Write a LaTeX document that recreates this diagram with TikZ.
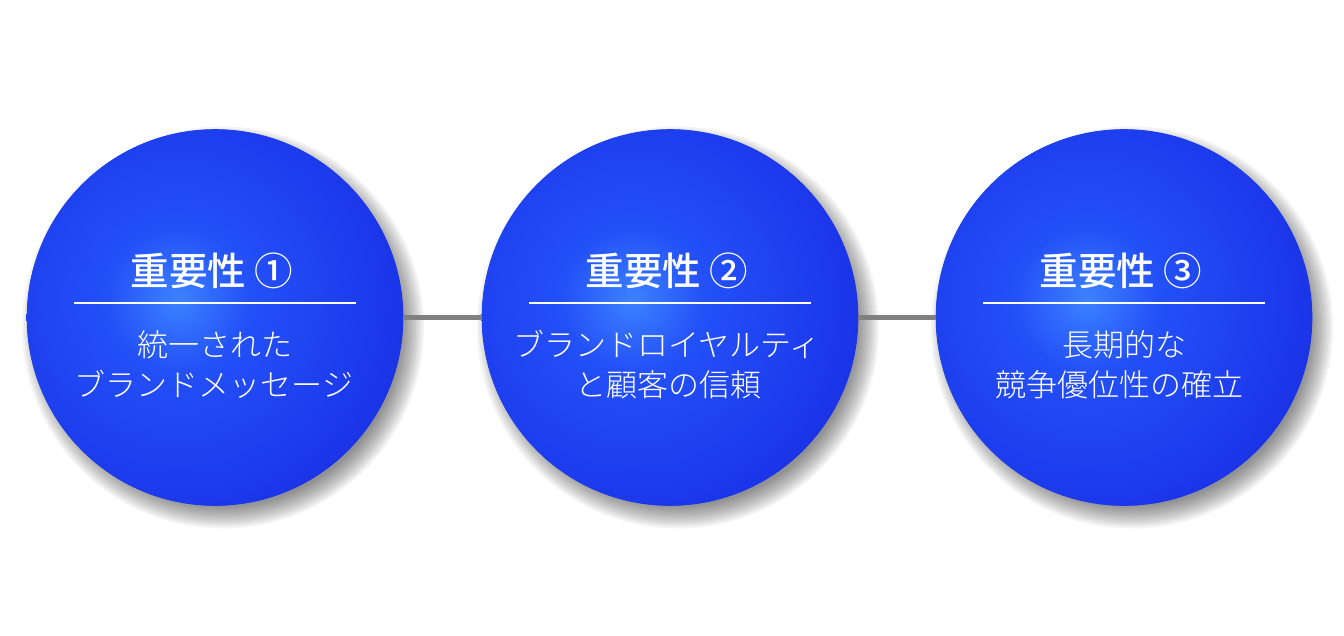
\documentclass[tikz,border=0pt]{standalone}
\usepackage{fontspec}
\IfFontExistsTF{Noto Sans CJK JP Medium}
  {\setmainfont{Noto Sans CJK JP}[BoldFont={Noto Sans CJK JP Medium}]}
  {\setmainfont{Noto Sans CJK JP}}
\IfFontExistsTF{Noto Sans CJK JP Light}
  {\newfontfamily\bodyfont{Noto Sans CJK JP Light}}
  {\newfontfamily\bodyfont{Noto Sans CJK JP}}
\definecolor{gcenter}{HTML}{3C82FF}
\definecolor{gmid}{HTML}{2350F7}
\definecolor{gedge}{HTML}{1C3AEC}
\definecolor{gouter}{HTML}{1820D4}
\definecolor{linkgray}{HTML}{808080}
\pgfdeclareradialshading{ballshade}{\pgfpointorigin}{color(0bp)=(gcenter); color(7.8bp)=(gmid); color(21.2bp)=(gedge); color(35.36bp)=(gouter); color(50bp)=(gouter)}
\tikzset{
  ball/.style={circle, minimum size=376pt, inner sep=0pt, draw=none, fill=gedge},
  shadowlayer/.style={fill=black, fill opacity=0.045, draw=none},
  title/.style={anchor=base, text=white, font=\bfseries\fontsize{38.5}{40}\selectfont},
  body/.style={anchor=base, text=white, font=\bodyfont\fontsize{31}{36}\selectfont},
  sep/.style={draw=white, line width=1.5pt},
  link/.style={draw=linkgray, line width=5pt}
}
\begin{document}
\begin{tikzpicture}[x=1pt,y=-1pt]
\useasboundingbox[fill=white] (0,0) rectangle (1344,635);
\foreach \cx in {215,670,1124} {
  \foreach \r in {201,199,...,179} {
    \fill[shadowlayer] (\cx+8,327.5) circle (\r);
  }
}
\foreach \i/\cx in {1/215,2/670,3/1124} {
  \node[ball] (c\i) at (\cx,317.5) {};
  \begin{scope}
    \clip (c\i.center) circle (188.3);
    \shade[shading=ballshade] (\cx-37,299.5) circle (230);
  \end{scope}
  \coordinate (s\i a) at (\cx-141,303);
  \coordinate (s\i b) at (\cx+141,303);
  \draw[sep] (s\i a) -- (s\i b);
}
\node[title] (t1) at (212,285) {重要性 ①};
\node[title] (t2) at (667,285) {重要性 ②};
\node[title] (t3) at (1121,285) {重要性 ③};
\node[body] (b1a) at (215,356) {統一された};
\node[body] (b1b) at (214,396) {ブランドメッセージ};
\node[body] (b2a) at (667,356) {ブランドロイヤルティ};
\node[body] (b2b) at (668,396) {と顧客の信頼};
\node[body] (b3a) at (1124,356) {長期的な};
\node[body] (b3b) at (1119,396) {競争優位性の確立};
\draw[link] (c1.east) -- (c2.west);
\draw[link] (c2.east) -- (c3.west);
\end{tikzpicture}
\end{document}
